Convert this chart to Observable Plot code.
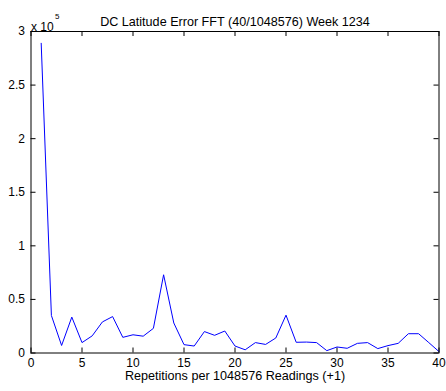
<!DOCTYPE html>
<html>
<head>
<meta charset="utf-8">
<script src="https://cdn.jsdelivr.net/npm/d3@7"></script>
<script src="https://cdn.jsdelivr.net/npm/@observablehq/plot@0.6"></script>
<style>
  html, body { margin: 0; padding: 0; background: #fff; }
  #chart svg { display: block; }
</style>
</head>
<body>
<div id="chart"></div>
<script>
const titleText = "DC Latitude Error FFT (40/1048576) Week 1234";
const xLabelText = "Repetitions per 1048576 Readings (+1)";
const repetitions = d3.range(1, 41);
const magnitude = [
  2.89, 0.35, 0.07, 0.335, 0.097, 0.16, 0.29, 0.34, 0.146, 0.17,
  0.157, 0.23, 0.73, 0.28, 0.078, 0.065, 0.2, 0.165, 0.205, 0.065,
  0.03, 0.097, 0.08, 0.14, 0.353, 0.1, 0.102, 0.097, 0.022, 0.056,
  0.044, 0.09, 0.097, 0.041, 0.069, 0.09, 0.18, 0.18, 0.097, 0.013
].map(v => v * 1e5);
const xTicks = [0, 5, 10, 15, 20, 25, 30, 35, 40];
const yTicks = [0, 0.5, 1, 1.5, 2, 2.5, 3].map(v => v * 1e5);

const data = repetitions.map((r, i) => ({x: r, y: magnitude[i]}));

const W = 446, H = 391;
const mL = 30.5, mR = 7.5, mT = 31, mB = 38.5;
const plotH = H - mT - mB;
const plotW = W - mL - mR;
const tk = 5;

const chart = Plot.plot({
  width: W,
  height: H,
  marginLeft: mL,
  marginRight: mR,
  marginTop: mT,
  marginBottom: mB,
  style: {fontFamily: "'Liberation Sans', Arial, sans-serif", fontSize: "12px", color: "#000", background: "#fff"},
  x: {domain: [0, 40]},
  y: {domain: [0, 3e5]},
  marks: [
    Plot.ruleX(xTicks, {x: d => d, stroke: "#000", strokeWidth: 1, insetTop: plotH - tk}),
    Plot.ruleX(xTicks, {x: d => d, stroke: "#000", strokeWidth: 1, insetBottom: plotH - tk}),
    Plot.ruleY(yTicks, {y: d => d, stroke: "#000", strokeWidth: 1, insetRight: plotW - tk}),
    Plot.ruleY(yTicks, {y: d => d, stroke: "#000", strokeWidth: 1, insetLeft: plotW - tk}),
    Plot.axisX({ticks: xTicks, tickSize: 0, tickPadding: 5, label: null, fontSize: 12}),
    Plot.axisY({ticks: yTicks, tickSize: 0, tickPadding: 6, label: null, fontSize: 12, tickFormat: d => String(d / 1e5)}),
    Plot.line(data, {x: "x", y: "y", stroke: "#0000ff", strokeWidth: 1}),
    Plot.frame({stroke: "#000", strokeWidth: 1}),
    Plot.text([titleText], {frameAnchor: "top", dy: -14.5, text: d => d, fontSize: 12.6, fill: "#000"}),
    Plot.text(["x 10"], {frameAnchor: "top-left", dx: 0, dy: -9.5, text: d => d, fontSize: 12, fill: "#000", textAnchor: "start"}),
    Plot.text(["5"], {frameAnchor: "top-left", dx: 24, dy: -18, text: d => d, fontSize: 8, fill: "#000", textAnchor: "start"}),
    Plot.text([xLabelText], {frameAnchor: "bottom", dy: 26.5, text: d => d, fontSize: 12.6, fill: "#000"})
  ]
});
document.getElementById("chart").appendChild(chart);
</script>
</body>
</html>
